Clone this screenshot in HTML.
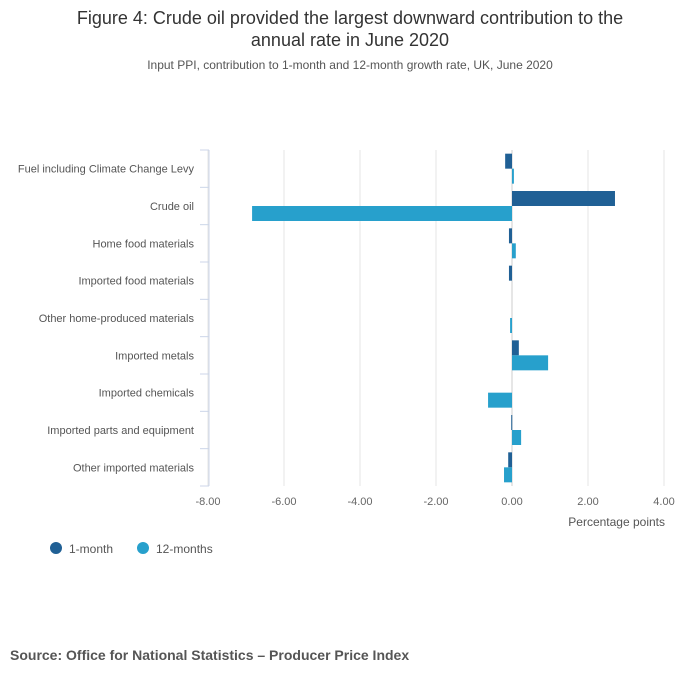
<!DOCTYPE html>
<html><head><meta charset="utf-8"><style>
body{margin:0;background:#fff;font-family:"Liberation Sans",sans-serif;}
#wrap{position:relative;width:700px;height:682px;}
</style></head><body>
<div id="wrap">
<svg id="chart" width="700" height="682" xmlns="http://www.w3.org/2000/svg">
<text x="350" y="24" text-anchor="middle" font-size="18" fill="#333">Figure 4: Crude oil provided the largest downward contribution to the</text>
<text x="350" y="46" text-anchor="middle" font-size="18" fill="#333">annual rate in June 2020</text>
<text x="350" y="69" text-anchor="middle" font-size="12" fill="#555">Input PPI, contribution to 1-month and 12-month growth rate, UK, June 2020</text>
<g id="grid"></g><g id="bars"></g><g id="labels"></g>
<text x="665" y="526" text-anchor="end" font-size="12" fill="#555">Percentage points</text>
<g><circle cx="56" cy="548" r="6" fill="#206095"/><text x="69" y="553" font-size="12" fill="#555">1-month</text></g>
<g><circle cx="143" cy="548" r="6" fill="#27a0cc"/><text x="156" y="553" font-size="12" fill="#555">12-months</text></g>
<text x="10" y="660" font-size="14" font-weight="bold" fill="#555">Source: Office for National Statistics – Producer Price Index</text>
</svg>
</div>
<script>
const categories=["Fuel including Climate Change Levy","Crude oil","Home food materials","Imported food materials","Other home-produced materials","Imported metals","Imported chemicals","Imported parts and equipment","Other imported materials"];
const oneMonth=[-0.18,2.71,-0.08,-0.08,0,0.18,0,-0.02,-0.1];
const twelveMonths=[0.05,-6.84,0.1,0,-0.05,0.95,-0.63,0.24,-0.21];
const xTicks=[-8,-6,-4,-2,0,2,4];
const NS="http://www.w3.org/2000/svg";
const x0=208,x1=664,dmin=-8,dmax=4,yTop=150,yBottom=486;
const xs=v=>x0+(v-dmin)/(dmax-dmin)*(x1-x0);
const band=(yBottom-yTop)/categories.length;
function mk(t,a,p){const e=document.createElementNS(NS,t);for(const k in a)e.setAttribute(k,a[k]);p.appendChild(e);return e;}
const grid=document.getElementById('grid'),bars=document.getElementById('bars'),labels=document.getElementById('labels');
xTicks.forEach(t=>{
  const l=mk('line',{x1:xs(t),x2:xs(t),y1:yTop,y2:yBottom,stroke:t===0?'#ddd':'#e6e6e6','stroke-width':t===0?1.5:1},grid);
  
  
  const tx=mk('text',{x:xs(t),y:505,'text-anchor':'middle','font-size':11,fill:'#666'},labels);
  tx.textContent=t.toFixed(2);
  
  
});
const ax=mk('line',{x1:x0+1,x2:x0+1,y1:yTop,y2:yBottom,stroke:'#ccd6e8'},grid);


for(let i=0;i<=categories.length;i++){
  const y=yTop+i*band;
  const tk=mk('line',{x1:x0-8,x2:x0+1,y1:y,y2:y,stroke:'#ccd6e8'},grid);
  
  
}
const bh=15;
categories.forEach((c,i)=>{
  const yc=yTop+i*band+band/2;
  const t=mk('text',{x:194,y:yc+4,'text-anchor':'end','font-size':11,fill:'#555'},labels);
  t.textContent=c;
  
  
  [[oneMonth[i],'#206095',yc-bh],[twelveMonths[i],'#27a0cc',yc]].forEach(([v,col,y],j)=>{
    const a=xs(Math.min(0,v)),b=xs(Math.max(0,v));
    const r=mk('rect',{x:a,y:y,width:Math.max(b-a,v===0?0:1),height:bh,fill:col},bars);
    
    
  });
});
</script>
</body></html>
